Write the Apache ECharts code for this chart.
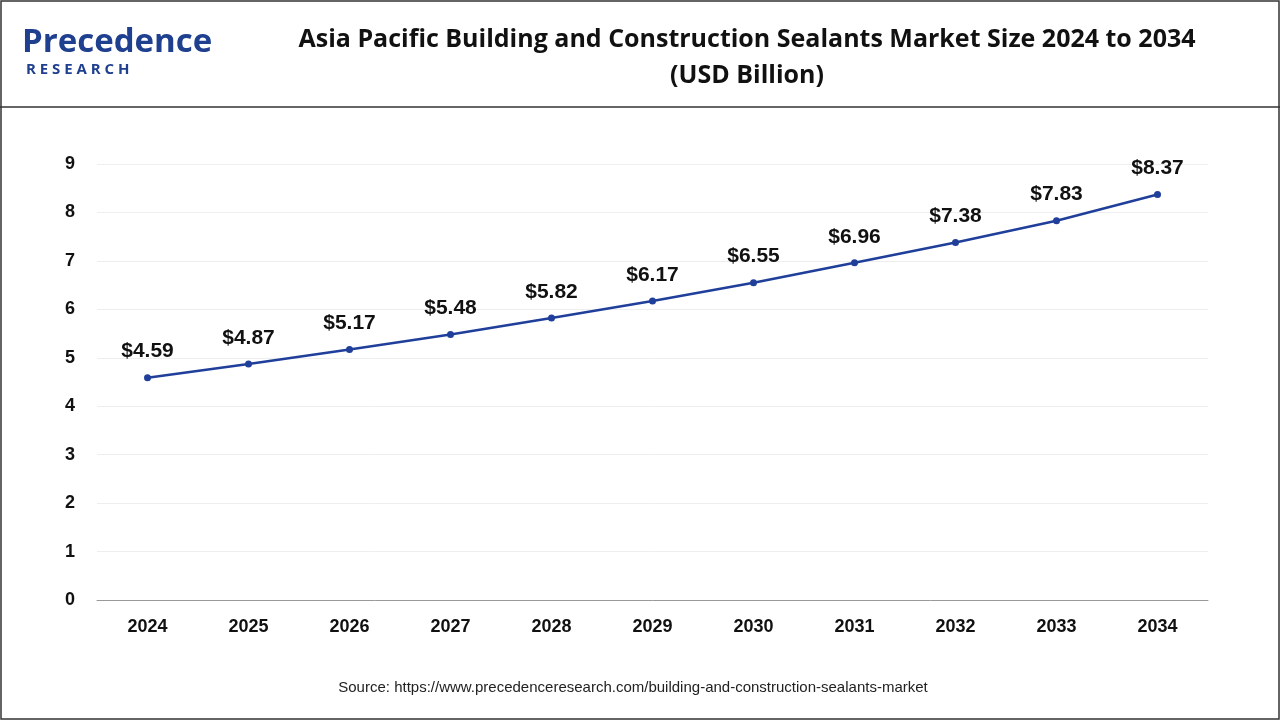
<!DOCTYPE html>
<html><head><meta charset="utf-8">
<script src="https://cdn.jsdelivr.net/npm/echarts@6/dist/echarts.min.js"></script>
<style>html,body{margin:0;padding:0;background:#fff}#c{width:1280px;height:720px}</style>
</head><body><div id="c"></div>
<script>
const years = ['2024','2025','2026','2027','2028','2029','2030','2031','2032','2033','2034'];
const values = [4.59,4.87,5.17,5.48,5.82,6.17,6.55,6.96,7.38,7.83,8.37];
const yTicks = [0,1,2,3,4,5,6,7,8,9];
const F = '"Liberation Sans", Arial, sans-serif';
const chart = echarts.init(document.getElementById('c'));
chart.setOption({
  animation:false,
  graphic:[
    {type:'rect',shape:{x:1,y:1,width:1278,height:718},style:{fill:'none',stroke:'#333',lineWidth:1.5}},
    {type:'line',shape:{x1:0,y1:107,x2:1280,y2:107},style:{stroke:'#333',lineWidth:1.5}},
    {type:'text',style:{x:22,y:26,text:'Precedence',font:'bold 33px "Open Sans", sans-serif',fill:'#1f3f8f'}},
    {type:'text',style:{x:26,y:62,text:'R E S E A R C H',font:'bold 15px "Open Sans", sans-serif',fill:'#1f3f8f'}},
    {type:'text',style:{x:747,y:22,text:'Asia Pacific Building and Construction Sealants Market Size 2024 to 2034\n(USD Billion)',font:'bold 25px "Open Sans", sans-serif',fill:'#111',align:'center',lineHeight:36}},
    {type:'text',style:{x:633,y:680,text:'Source: https://www.precedenceresearch.com/building-and-construction-sealants-market',font:'15px '+F,fill:'#222',align:'center'}}
  ],
  grid:{left:97,right:72,top:164,bottom:120},
  xAxis:{type:'category',data:years,boundaryGap:true,
    axisLine:{lineStyle:{color:'#999'}},axisTick:{show:false},
    axisLabel:{color:'#111',fontWeight:'bold',fontSize:18,margin:18,fontFamily:F}},
  yAxis:{type:'value',min:0,max:9,interval:1,
    axisLabel:{color:'#111',fontWeight:'bold',fontSize:18,margin:22,fontFamily:F,formatter:v=>yTicks.includes(v)?String(v):''},
    splitLine:{lineStyle:{color:'#eee'}}},
  series:[{type:'line',data:values,symbol:'circle',symbolSize:7,
    lineStyle:{color:'#1f3f9a',width:2.5},itemStyle:{color:'#1f3f9a'},
    label:{show:true,position:'top',distance:12,formatter:p=>'$'+p.value.toFixed(2),color:'#111',fontWeight:'bold',fontSize:21,fontFamily:F}}]
});
</script></body></html>
